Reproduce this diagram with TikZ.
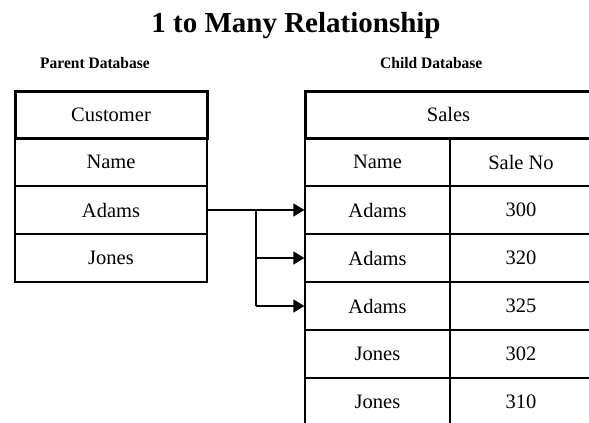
\documentclass[tikz,border=0pt]{standalone}
\usepackage{fontspec}
\setmainfont{Liberation Serif}
\usetikzlibrary{arrows.meta}
\tikzset{
  cell/.style={draw, line width=1.3pt, inner sep=0pt, minimum height=48pt, font=\fontsize{20.5}{22}\selectfont, text=black},
  lcell/.style={cell, minimum width=192pt},
  ncell/.style={cell, minimum width=145pt},
  scell/.style={cell, minimum width=142pt},
  head/.style={draw, line width=3pt, inner sep=0pt, minimum height=47pt, font=\fontsize{20.5}{22}\selectfont},
  link/.style={line width=1.3pt},
  arr/.style={link, -{Triangle[length=11pt,width=13pt]}},
  dbtitle/.style={anchor=base west, inner sep=0pt, font=\fontsize{16}{18}\selectfont\bfseries, xscale=0.97}
}
\begin{document}
\begin{tikzpicture}[x=1pt,y=-1pt]
\clip (0,0) rectangle (589,423);
\fill[white] (0,0) rectangle (589,423);
% title
\node[anchor=base, inner sep=0pt, font=\fontsize{29}{32}\selectfont\bfseries] (title) at (296,32) {1 to Many Relationship};
\node[dbtitle] (parent) at (40,68) {Parent Database};
\node[dbtitle] (child) at (380,68) {Child Database};
% left table
\node[lcell] (lname) at (111,162) {Name};
\node[lcell] (ladams) at (111,210) {Adams};
\node[lcell] (ljones) at (111,258) {Jones};
\node[head, minimum width=192pt] (cust) at (111,114.5) {Customer};
% right table
\node[ncell] (rname) at (377.5,162) {Name};
\node[scell] (rsale) at (521,162) {Sale No};
\node[ncell] (ra1) at (377.5,210) {Adams};
\node[scell] (rs1) at (521,210) {300};
\node[ncell] (ra2) at (377.5,258) {Adams};
\node[scell] (rs2) at (521,258) {320};
\node[ncell] (ra3) at (377.5,306) {Adams};
\node[scell] (rs3) at (521,306) {325};
\node[ncell] (rj1) at (377.5,354) {Jones};
\node[scell] (rs4) at (521,354) {302};
\node[ncell] (rj2) at (377.5,402) {Jones};
\node[scell] (rs5) at (521,402) {310};
\node[head, minimum width=287pt] (sales) at (448.5,114.5) {Sales};
% connectors
\coordinate (jx) at (256,0);
\draw[arr] (ladams.east) -- (ra1.west);
\draw[link] (jx |- ladams.east) -- (jx |- ra3.west);
\draw[arr] (jx |- ra2.west) -- (ra2.west);
\draw[arr] (jx |- ra3.west) -- (ra3.west);
\end{tikzpicture}
\end{document}
